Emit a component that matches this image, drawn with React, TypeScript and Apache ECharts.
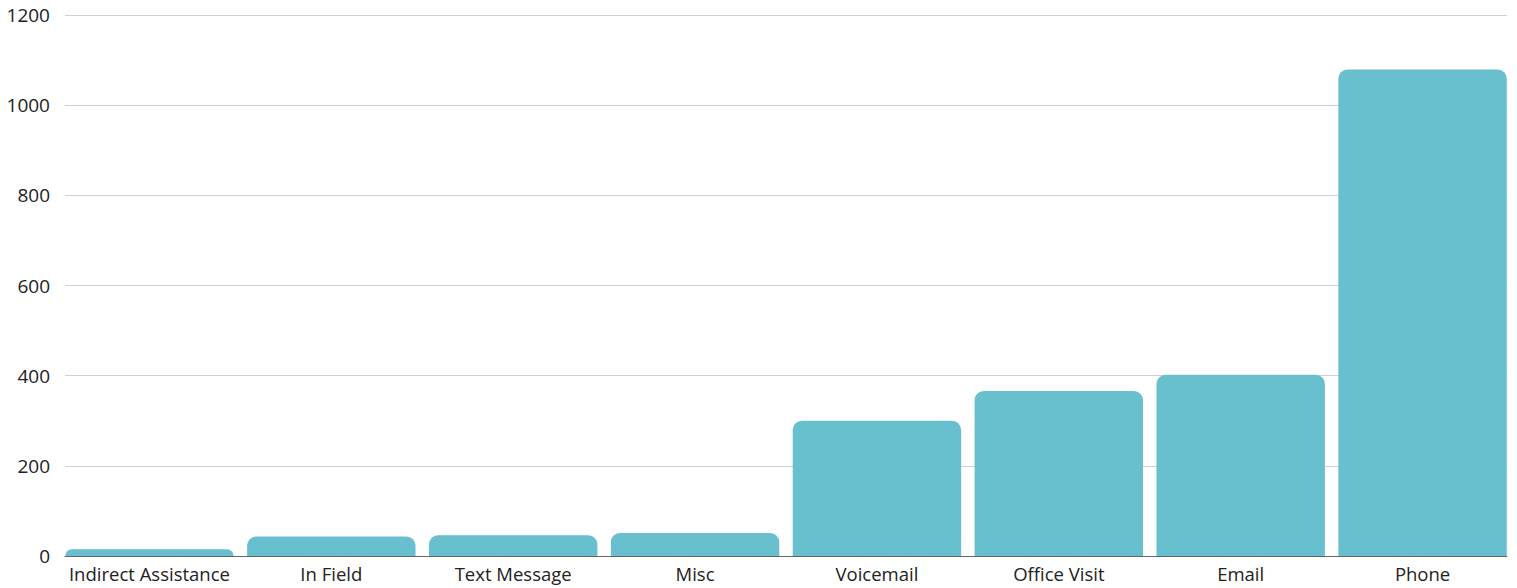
import React, { useEffect, useRef } from "react";
import * as echarts from "echarts";

const categories = ["Indirect Assistance", "In Field", "Text Message", "Misc", "Voicemail", "Office Visit", "Email", "Phone"];
const values = [15, 43, 46, 51, 300, 366, 402, 1079];
const yTicks = { min: 0, max: 1200, interval: 200 };

export default function App() {
  const ref = useRef<HTMLDivElement>(null);
  useEffect(() => {
    if (!ref.current) return;
    const chart = echarts.init(ref.current, undefined, { renderer: "svg" });
    const font = "Open Sans";
    chart.setOption({
      animation: false,
      grid: [
        { left: 65, right: 10, top: 15, bottom: 32, containLabel: false },
        { left: 58.5, right: 3.5, top: 15, bottom: 32, containLabel: false },
      ],
      xAxis: [
        {
          gridIndex: 0,
          type: "category",
          data: categories,
          axisTick: { show: false },
          axisLabel: { show: false },
          axisLine: { lineStyle: { color: "#666", width: 1 } },
        },
        {
          gridIndex: 1,
          type: "category",
          data: categories,
          axisTick: { show: false },
          axisLine: { show: false },
          axisLabel: { color: "#222", fontSize: 18.5, fontFamily: font, margin: 8, interval: 0 },
        },
      ],
      yAxis: [
        {
          gridIndex: 0,
          type: "value",
          min: yTicks.min,
          max: yTicks.max,
          interval: yTicks.interval,
          axisLabel: { color: "#222", fontSize: 19, fontFamily: font, margin: 15, formatter: (v: number) => String(v) },
          splitLine: { lineStyle: { color: "#d0d0d0", width: 1 } },
          axisLine: { show: false },
          axisTick: { show: false },
        },
        {
          gridIndex: 1,
          type: "value",
          min: yTicks.min,
          max: yTicks.max,
          interval: yTicks.interval,
          show: false,
          splitLine: { show: false },
        },
      ],
      series: [
        {
          type: "bar",
          xAxisIndex: 1,
          yAxisIndex: 1,
          data: values,
          barCategoryGap: "7.4%",
          itemStyle: { color: "#68bfce", borderRadius: [9, 9, 0, 0] },
        },
      ],
    });
    return () => chart.dispose();
  }, []);
  return <div ref={ref} style={{ position: "absolute", left: 0, top: 0, width: 1517, height: 588 }} />;
}
